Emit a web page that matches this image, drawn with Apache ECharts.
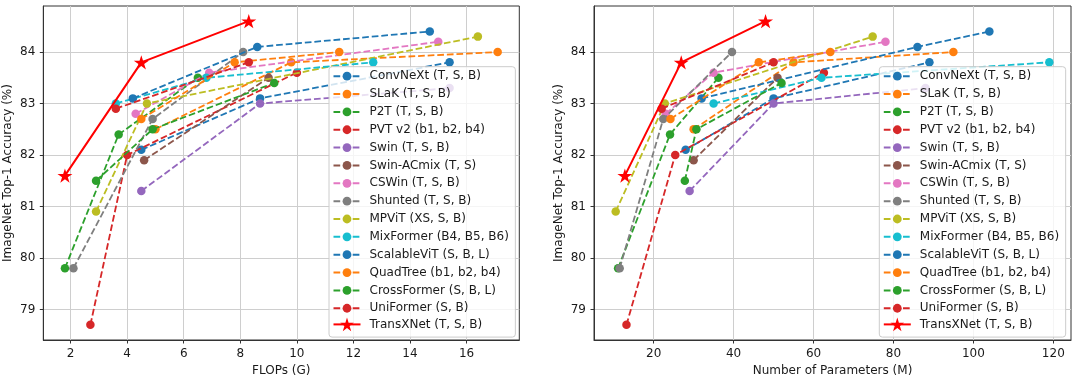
<!DOCTYPE html>
<html>
<head>
<meta charset="utf-8">
<script src="https://cdn.jsdelivr.net/npm/echarts@6/dist/echarts.min.js"></script>
<style>
html,body{margin:0;padding:0;background:#fff;}
#c{width:1079px;height:382px;}
</style>
</head>
<body>
<div id="c"></div>
<script>
// ---- data ----
const names = [
  'ConvNeXt (T, S, B)', 'SLaK (T, S, B)', 'P2T (T, S, B)', 'PVT v2 (b1, b2, b4)',
  'Swin (T, S, B)', 'Swin-ACmix (T, S)', 'CSWin (T, S, B)', 'Shunted (T, S, B)',
  'MPViT (XS, S, B)', 'MixFormer (B4, B5, B6)', 'ScalableViT (S, B, L)',
  'QuadTree (b1, b2, b4)', 'CrossFormer (S, B, L)', 'UniFormer (S, B)', 'TransXNet (T, S, B)'
];
const flops = [
  [4.5, 8.7, 15.4], [5.0, 9.8, 17.1], [1.8, 3.7, 6.5], [2.7, 4.0, 10.0],
  [4.5, 8.7, 15.4], [4.6, 9.0], [4.3, 6.9, 15.0], [2.1, 4.9, 8.1],
  [2.9, 4.7, 16.4], [3.6, 6.8, 12.7], [4.2, 8.6, 14.7],
  [4.5, 7.8, 11.5], [2.9, 4.9, 9.2], [3.6, 8.3], [1.8, 4.5, 8.3]
];
const params = [
  [28, 50, 89], [30, 55, 95], [11.1, 24.1, 36.2], [13.2, 25.4, 62.6],
  [29, 50, 88], [30, 51], [23, 35, 78], [11.5, 22.4, 39.6],
  [10.5, 22.8, 74.8], [35, 62, 119], [32, 86, 104],
  [24.2, 46.3, 64.2], [27.8, 30.7, 52.0], [22, 50], [12.8, 26.9, 48.0]
];
const acc = [
  [82.1, 83.1, 83.8], [82.5, 83.8, 84.0], [79.8, 82.4, 83.5], [78.7, 82.0, 83.6],
  [81.3, 83.0, 83.3], [81.9, 83.5], [82.8, 83.6, 84.2], [79.8, 82.7, 84.0],
  [80.9, 83.0, 84.3], [83.0, 83.5, 83.8], [83.1, 84.1, 84.4],
  [82.7, 83.8, 84.0], [81.5, 82.5, 83.4], [82.9, 83.8], [81.6, 83.8, 84.6]
];
const yTicks = [79, 80, 81, 82, 83, 84];
const flopsTicks = [2, 4, 6, 8, 10, 12, 14, 16];
const paramsTicks = [20, 40, 60, 80, 100, 120];
const colors = ['#1f77b4', '#ff7f0e', '#2ca02c', '#d62728', '#9467bd', '#8c564b', '#e377c2',
  '#7f7f7f', '#bcbd22', '#17becf', '#1f77b4', '#ff7f0e', '#2ca02c', '#d62728', '#ff0000'];

// ---- chart ----
const FONT = 'DejaVu Sans';
const TXT = '#1a1a1a';
const AX = '#333333';

// five-pointed star outline (matplotlib "*" proportions)
const STAR = (function () {
  const pts = [];
  for (let k = 0; k < 10; k++) {
    const r = k % 2 === 0 ? 1 : 0.382;
    const a = -Math.PI / 2 + k * Math.PI / 5;
    pts.push((r * Math.cos(a)).toFixed(4) + ',' + (r * Math.sin(a)).toFixed(4));
  }
  return 'path://M' + pts.join('L') + 'Z';
})();

function padRange(arrs) {
  const v = arrs.flat();
  const mn = Math.min(...v), mx = Math.max(...v);
  const m = (mx - mn) * 0.05;
  return [mn - m, mx + m];
}
const yR = padRange(acc);
const fR = padRange(flops);
const pR = padRange(params);

function xAxis(idx, range, ticks, name) {
  return {
    type: 'value', gridIndex: idx, min: range[0], max: range[1],
    name: name, nameLocation: 'middle', nameGap: 25,
    nameTextStyle: { fontFamily: FONT, fontSize: 12, color: TXT },
    axisLine: { show: true, onZero: false, lineStyle: { color: AX, width: 1 } },
    axisTick: { show: true, length: 3.5, customValues: ticks, lineStyle: { color: AX, width: 1 } },
    axisLabel: { customValues: ticks, margin: 8, fontFamily: FONT, fontSize: 12, color: TXT },
    splitLine: { show: true, lineStyle: { color: '#cecece', width: 1 } }
  };
}
function yAxis(idx) {
  return {
    type: 'value', gridIndex: idx, min: yR[0], max: yR[1],
    name: 'ImageNet Top-1 Accuracy (%)', nameLocation: 'middle', nameGap: 29,
    nameTextStyle: { fontFamily: FONT, fontSize: 12, color: TXT },
    axisLine: { show: true, onZero: false, lineStyle: { color: AX, width: 1 } },
    axisTick: { show: true, length: 3.5, customValues: yTicks, lineStyle: { color: AX, width: 1 } },
    axisLabel: { customValues: yTicks, margin: 8, fontFamily: FONT, fontSize: 12, color: TXT },
    splitLine: { show: true, lineStyle: { color: '#cecece', width: 1 } }
  };
}

const series = [];
[flops, params].forEach((xs, gi) => {
  names.forEach((n, i) => {
    const isT = i === names.length - 1;
    series.push({
      type: 'line', name: n, xAxisIndex: gi, yAxisIndex: gi,
      data: xs[i].map((x, k) => [x, acc[i][k]]),
      symbol: isT ? STAR : 'circle',
      symbolSize: isT ? 15 : 8.5,
      symbolKeepAspect: true,
      showSymbol: true,
      lineStyle: { color: colors[i], width: isT ? 2 : 1.8, type: isT ? 'solid' : [6.7, 2.9] },
      itemStyle: { color: colors[i] },
      emphasis: { disabled: true },
      z: 2 + i * 0.01
    });
  });
});

const ITEM_STEP = 17.85;
function legendMain(left) {
  return {
    data: names.slice(0, names.length - 1), left: left, top: 66.7, orient: 'vertical',
    itemWidth: 27, itemHeight: 11, itemGap: ITEM_STEP - 12,
    padding: [3.5, 6.5, 5 + ITEM_STEP, 3.5],
    backgroundColor: 'rgba(255,255,255,0.8)', borderColor: '#cccccc', borderWidth: 1, borderRadius: 3,
    textStyle: { fontFamily: FONT, fontSize: 12, color: TXT, padding: [0, 0, 0, 4], lineHeight: 12 },
    selectedMode: false, z: 4
  };
}
function legendStar(left) {
  const h = 17;
  return {
    data: [names[names.length - 1]], left: left, top: 66.7 + 3.5 + 6 + 14 * ITEM_STEP - h / 2, orient: 'vertical',
    itemWidth: 27, itemHeight: h,
    padding: [0, 0, 0, 3.5],
    textStyle: { fontFamily: FONT, fontSize: 12, color: TXT, padding: [0, 0, 0, 4], lineHeight: 12 },
    selectedMode: false, z: 5
  };
}

const chart = echarts.init(document.getElementById('c'), null, { renderer: 'canvas' });
chart.setOption({
  animation: false,
  backgroundColor: '#ffffff',
  grid: [
    { left: 43.3, top: 6, width: 476, height: 336, show: true, borderColor: AX, borderWidth: 1, backgroundColor: 'transparent' },
    { left: 594, top: 6, width: 477, height: 336, show: true, borderColor: AX, borderWidth: 1, backgroundColor: 'transparent' }
  ],
  xAxis: [xAxis(0, fR, flopsTicks, 'FLOPs (G)'), xAxis(1, pR, paramsTicks, 'Number of Parameters (M)')],
  yAxis: [yAxis(0), yAxis(1)],
  legend: [legendMain(329), legendMain(879.3), legendStar(329), legendStar(879.3)],
  series: series
});
</script>
</body>
</html>
